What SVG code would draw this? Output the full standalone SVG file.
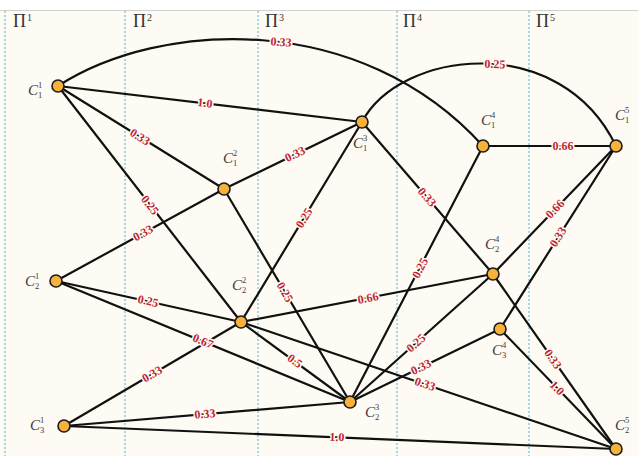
<svg xmlns="http://www.w3.org/2000/svg" width="638" height="456" viewBox="0 0 638 456">
<style>
.bg{fill:#fdfbf3}
.grid{stroke:#4fb0da;stroke-width:1;stroke-dasharray:2 2;fill:none}
.e{stroke:#111111;stroke-width:2.2;fill:none;stroke-linecap:round}
.n{fill:#f6b23a;stroke:#1a1a1a;stroke-width:1.6}
.w{font-family:"Liberation Serif",serif;font-weight:bold;font-size:12px;fill:#c21f33;text-anchor:middle;dominant-baseline:central;stroke:#fdfbf3;stroke-width:3;paint-order:stroke;stroke-linejoin:round}
.c{font-family:"Liberation Serif",serif;font-style:italic;font-size:15px;fill:#3a3a3a}
.s{font-family:"Liberation Serif",serif;font-size:8.5px;fill:#3a3a3a}
.p{font-family:"Liberation Serif",serif;font-size:18px;fill:#333}
.ps{font-family:"Liberation Serif",serif;font-size:10px;fill:#333}
</style>
<rect x="0" y="0" width="638" height="456" fill="#ffffff"/>
<rect class="bg" x="0" y="10" width="638" height="446"/>
<line x1="0" y1="10.5" x2="638" y2="10.5" stroke="#d0d0d0" stroke-width="1"/>
<g id="grid">
<line class="grid" x1="5" y1="11" x2="5" y2="456"/>
<line class="grid" x1="125" y1="11" x2="125" y2="456"/>
<line class="grid" x1="258" y1="11" x2="258" y2="456"/>
<line class="grid" x1="397" y1="11" x2="397" y2="456"/>
<line class="grid" x1="529" y1="11" x2="529" y2="456"/>
<text class="p" x="13" y="27">Π</text><text class="ps" x="27" y="21">1</text>
<text class="p" x="133" y="27">Π</text><text class="ps" x="147" y="21">2</text>
<text class="p" x="265" y="27">Π</text><text class="ps" x="279" y="21">3</text>
<text class="p" x="403" y="27">Π</text><text class="ps" x="417" y="21">4</text>
<text class="p" x="536" y="27">Π</text><text class="ps" x="550" y="21">5</text>
</g>
<g id="connectors">
<path class="e" d="M58,86 C160,20 360,10 483,146"/>
<path class="e" d="M362,122 C400,50 560,30 616,146"/>
<line class="e" x1="58" y1="86" x2="362" y2="122"/>
<line class="e" x1="58" y1="86" x2="224" y2="189"/>
<line class="e" x1="58" y1="86" x2="241" y2="322"/>
<line class="e" x1="224" y1="189" x2="362" y2="122"/>
<line class="e" x1="56" y1="281" x2="224" y2="189"/>
<line class="e" x1="224" y1="189" x2="350" y2="402"/>
<line class="e" x1="241" y1="322" x2="362" y2="122"/>
<line class="e" x1="56" y1="281" x2="241" y2="322"/>
<line class="e" x1="56" y1="281" x2="350" y2="402"/>
<line class="e" x1="64" y1="426" x2="241" y2="322"/>
<line class="e" x1="64" y1="426" x2="350" y2="402"/>
<line class="e" x1="64" y1="426" x2="616" y2="449"/>
<line class="e" x1="241" y1="322" x2="350" y2="402"/>
<line class="e" x1="241" y1="322" x2="493" y2="274"/>
<line class="e" x1="241" y1="322" x2="616" y2="449"/>
<line class="e" x1="362" y1="122" x2="493" y2="274"/>
<line class="e" x1="493" y1="274" x2="616" y2="449"/>
<line class="e" x1="350" y1="402" x2="483" y2="146"/>
<line class="e" x1="350" y1="402" x2="493" y2="274"/>
<line class="e" x1="350" y1="402" x2="500" y2="329"/>
<line class="e" x1="483" y1="146" x2="616" y2="146"/>
<line class="e" x1="493" y1="274" x2="616" y2="146"/>
<line class="e" x1="500" y1="329" x2="616" y2="146"/>
<line class="e" x1="500" y1="329" x2="616" y2="449"/>
<text class="w" transform="translate(281,42) rotate(4)">0.33</text>
<text class="w" transform="translate(495,64) rotate(2)">0.25</text>
<text class="w" transform="translate(205,103) rotate(6.7)">1.0</text>
<text class="w" transform="translate(140,137) rotate(31.8)">0.33</text>
<text class="w" transform="translate(150,205) rotate(52.2)">0.25</text>
<text class="w" transform="translate(295,154) rotate(-25.9)">0.33</text>
<text class="w" transform="translate(143,233) rotate(-28.7)">0.33</text>
<text class="w" transform="translate(285,292) rotate(59.4)">0.25</text>
<text class="w" transform="translate(304,218) rotate(-58.8)">0.25</text>
<text class="w" transform="translate(148,301) rotate(12.5)">0.25</text>
<text class="w" transform="translate(203,341) rotate(22.4)">0.67</text>
<text class="w" transform="translate(152,374) rotate(-30.4)">0.33</text>
<text class="w" transform="translate(205,414) rotate(-4.8)">0.33</text>
<text class="w" transform="translate(337,437) rotate(2.4)">1.0</text>
<text class="w" transform="translate(295,361) rotate(36.3)">0.5</text>
<text class="w" transform="translate(368,298) rotate(-10.8)">0.66</text>
<text class="w" transform="translate(425,384) rotate(18.7)">0.33</text>
<text class="w" transform="translate(427,197) rotate(49.2)">0.33</text>
<text class="w" transform="translate(553,359) rotate(54.9)">0.33</text>
<text class="w" transform="translate(420,268) rotate(-62.5)">0.25</text>
<text class="w" transform="translate(416,343) rotate(-41.8)">0.25</text>
<text class="w" transform="translate(421,367) rotate(-26)">0.33</text>
<text class="w" transform="translate(563,146)">0.66</text>
<text class="w" transform="translate(555,209) rotate(-46.1)">0.66</text>
<text class="w" transform="translate(558,237) rotate(-57.6)">0.33</text>
<text class="w" transform="translate(557,388) rotate(46)">1.0</text>
</g>
<g id="C1_1"><circle class="n" cx="58" cy="86" r="6"/><text class="c" x="28" y="95">C</text><text class="s" x="38" y="88">1</text><text class="s" x="38" y="98">1</text></g>
<g id="C1_2"><circle class="n" cx="56" cy="281" r="6"/><text class="c" x="25" y="286">C</text><text class="s" x="35" y="279">1</text><text class="s" x="35" y="289">2</text></g>
<g id="C1_3"><circle class="n" cx="64" cy="426" r="6"/><text class="c" x="30" y="430">C</text><text class="s" x="40" y="423">1</text><text class="s" x="40" y="433">3</text></g>
<g id="C2_1"><circle class="n" cx="224" cy="189" r="6"/><text class="c" x="223" y="163">C</text><text class="s" x="233" y="156">2</text><text class="s" x="233" y="166">1</text></g>
<g id="C2_2"><circle class="n" cx="241" cy="322" r="6"/><text class="c" x="232" y="290">C</text><text class="s" x="242" y="283">2</text><text class="s" x="242" y="293">2</text></g>
<g id="C3_1"><circle class="n" cx="362" cy="122" r="6"/><text class="c" x="353" y="148">C</text><text class="s" x="363" y="141">3</text><text class="s" x="363" y="151">1</text></g>
<g id="C3_2"><circle class="n" cx="350" cy="402" r="6"/><text class="c" x="365" y="417">C</text><text class="s" x="375" y="410">3</text><text class="s" x="375" y="420">2</text></g>
<g id="C4_1"><circle class="n" cx="483" cy="146" r="6"/><text class="c" x="481" y="125">C</text><text class="s" x="491" y="118">4</text><text class="s" x="491" y="128">1</text></g>
<g id="C4_2"><circle class="n" cx="493" cy="274" r="6"/><text class="c" x="485" y="249">C</text><text class="s" x="495" y="242">4</text><text class="s" x="495" y="252">2</text></g>
<g id="C4_3"><circle class="n" cx="500" cy="329" r="6"/><text class="c" x="492" y="355">C</text><text class="s" x="502" y="348">4</text><text class="s" x="502" y="358">3</text></g>
<g id="C5_1"><circle class="n" cx="616" cy="146" r="6"/><text class="c" x="615" y="120">C</text><text class="s" x="625" y="113">5</text><text class="s" x="625" y="123">1</text></g>
<g id="C5_2"><circle class="n" cx="616" cy="449" r="6"/><text class="c" x="615" y="430">C</text><text class="s" x="625" y="423">5</text><text class="s" x="625" y="433">2</text></g>
</svg>
